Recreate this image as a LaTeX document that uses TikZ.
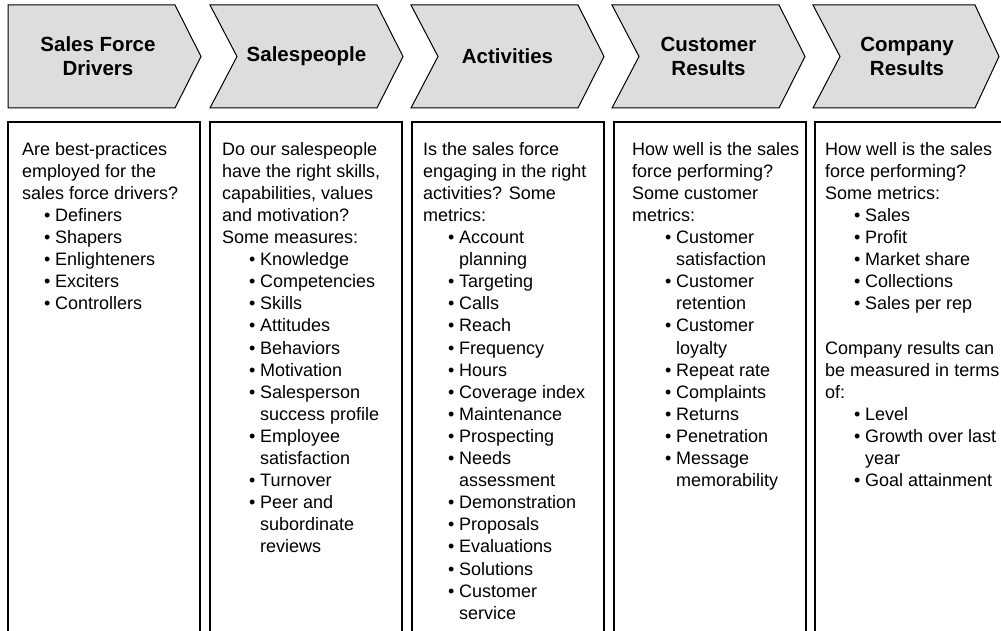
\documentclass[tikz,border=0pt]{standalone}
\usepackage{fontspec}
\setmainfont{Liberation Sans}
\definecolor{chevrongray}{RGB}{221,221,221}
\newcommand{\bx}{25pt}
\newcommand{\itm}[1]{\hspace*{\bx}\makebox[11pt][l]{•}#1}
\newcommand{\cnt}[1]{\hspace*{\dimexpr\bx+11pt\relax}#1}

\begin{document}
\begin{tikzpicture}[x=1pt,y=-1pt]

%
% Styles
%
\tikzstyle{chevron} = [draw=black,fill=chevrongray,line width=1pt,line join=miter]
\tikzstyle{stage} = [align=center,inner sep=0pt,font=\fontsize{20.5}{24}\selectfont\bfseries]
\tikzstyle{panel} = [draw=black,line width=1.6pt]
\tikzstyle{notes} = [anchor=north west,align=left,inner sep=0pt,font=\fontsize{18}{22.1}\selectfont]

\useasboundingbox (0,0) rectangle (1001,631);
\clip (0,0) rectangle (1001,631);

% chevrons
\draw[chevron] (8,5) -- (175,5) -- (201,56.5) -- (175,108) -- (8,108) -- cycle;
\draw[chevron] (210,5) -- (377,5) -- (403,56.5) -- (377,108) -- (210,108) -- (237,56.5) -- cycle;
\draw[chevron] (411,5) -- (578,5) -- (604,56.5) -- (578,108) -- (411,108) -- (438,56.5) -- cycle;
\draw[chevron] (612,5) -- (779,5) -- (805,56.5) -- (779,108) -- (612,108) -- (639,56.5) -- cycle;
\draw[chevron] (813,5) -- (975,5) -- (999,56.5) -- (975,108) -- (813,108) -- (840,56.5) -- cycle;

\node[stage] (drivers) at (98,56.5)    {Sales Force\\Drivers};
\node[stage] (people)  at (306.5,56.5) {Salespeople};
\node[stage] (activ)   at (507.5,56.5) {Activities};
\node[stage] (custres) at (708.5,56.5) {Customer\\Results};
\node[stage] (compres) at (907,56.5)   {Company\\Results};

% panels
\draw[panel] (8,122) rectangle (200,660);
\draw[panel] (210,122) rectangle (402,660);
\draw[panel] (412,122) rectangle (604,660);
\draw[panel] (614,122) rectangle (806,660);
\draw[panel] (815,122) rectangle (1009,660);

\def\bx{22pt}
\node[notes] (drvnotes) at (22,141.9) {Are best-practices\\employed for the\\sales force drivers?\\
\itm{Definers}\\\itm{Shapers}\\\itm{Enlighteners}\\\itm{Exciters}\\\itm{Controllers}};

\def\bx{27pt}
\node[notes] (pplnotes) at (222,141.9) {Do our salespeople\\have the right skills,\\capabilities, values\\and motivation?\\Some measures:\\
\itm{Knowledge}\\\itm{Competencies}\\\itm{Skills}\\\itm{Attitudes}\\\itm{Behaviors}\\\itm{Motivation}\\
\itm{Salesperson}\\\cnt{success profile}\\\itm{Employee}\\\cnt{satisfaction}\\\itm{Turnover}\\
\itm{Peer and}\\\cnt{subordinate}\\\cnt{reviews}};

\def\bx{25pt}
\node[notes] (actnotes) at (423,141.9) {Is the sales force\\engaging in the right\\activities? Some\\metrics:\\
\itm{Account}\\\cnt{planning}\\\itm{Targeting}\\\itm{Calls}\\\itm{Reach}\\\itm{Frequency}\\\itm{Hours}\\
\itm{Coverage index}\\\itm{Maintenance}\\\itm{Prospecting}\\\itm{Needs}\\\cnt{assessment}\\
\itm{Demonstration}\\\itm{Proposals}\\\itm{Evaluations}\\\itm{Solutions}\\\itm{Customer}\\\cnt{service}};

\def\bx{33pt}
\node[notes] (custnotes) at (632,141.9) {How well is the sales\\force performing?\\Some customer\\metrics:\\
\itm{Customer}\\\cnt{satisfaction}\\\itm{Customer}\\\cnt{retention}\\\itm{Customer}\\\cnt{loyalty}\\
\itm{Repeat rate}\\\itm{Complaints}\\\itm{Returns}\\\itm{Penetration}\\\itm{Message}\\\cnt{memorability}};

\def\bx{29pt}
\node[notes] (compnotes) at (825,141.9) {How well is the sales\\force performing?\\Some metrics:\\
\itm{Sales}\\\itm{Profit}\\\itm{Market share}\\\itm{Collections}\\\itm{Sales per rep}\\\mbox{}\\
Company results can\\be measured in terms\\of:\\
\itm{Level}\\\itm{Growth over last}\\\cnt{year}\\\itm{Goal attainment}};

\end{tikzpicture}
\end{document}
